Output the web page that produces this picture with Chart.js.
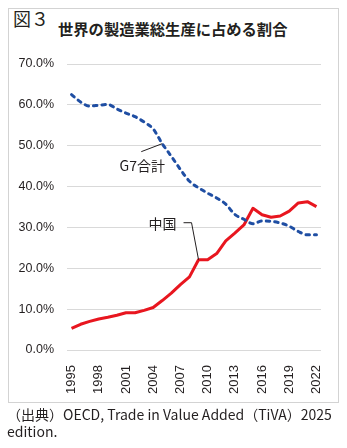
<!DOCTYPE html>
<html>
<head>
<meta charset="utf-8">
<script src="https://cdn.jsdelivr.net/npm/chart.js@4/dist/chart.umd.min.js"></script>
<style>
  html, body { margin: 0; padding: 0; background: #fff; }
  body { width: 347px; height: 448px; position: relative; overflow: hidden;
         font-family: "Noto Sans CJK JP", "Noto Sans", sans-serif; color: #231f20; }
  #frame { position: absolute; left: 8px; top: 8px; width: 331px; height: 395px;
           border: 1px solid #d3d3d3; box-sizing: border-box; }
  #fig { position: absolute; left: 13px; top: 9px; font-size: 18px; line-height: 18px; }
  #title { position: absolute; left: 58px; top: 21px; font-size: 15.3px; line-height: 15px; font-weight: bold; }
  #source { position: absolute; left: 7px; top: 406px; font-size: 14px; line-height: 17px; width: 345px; white-space: nowrap; }
  #chart { position: absolute; left: 0; top: 0; }
</style>
</head>
<body>
<div id="frame"></div>
<div id="fig">図３</div>
<div id="title">世界の製造業総生産に占める割合</div>
<canvas id="chart" width="347" height="448"></canvas>
<div id="source">（出典）OECD, Trade in Value Added（TiVA）2025<br>edition.</div>
<script>
// Share of world manufacturing output (%), 1995–2022
const years = ['1995','1996','1997','1998','1999','2000','2001','2002','2003','2004',
               '2005','2006','2007','2008','2009','2010','2011','2012','2013','2014',
               '2015','2016','2017','2018','2019','2020','2021','2022'];
const g7Share = [62.5, 60.7, 59.7, 59.9, 60.1, 59.0, 58.0, 57.1, 55.8, 54.1,
                 50.5, 47.4, 44.2, 41.3, 39.7, 38.4, 37.2, 35.7, 33.2, 32.0,
                 30.9, 31.6, 31.5, 31.1, 30.3, 29.0, 28.2, 28.2];
const chinaShare = [5.3, 6.3, 7.0, 7.6, 8.0, 8.5, 9.1, 9.1, 9.7, 10.4,
                    12.1, 13.9, 16.0, 17.9, 22.1, 22.1, 23.6, 26.7, 28.6, 30.6,
                    34.7, 33.1, 32.5, 32.8, 34.0, 36.0, 36.3, 35.1];
const tickYears = ['1995','1998','2001','2004','2007','2010','2013','2016','2019','2022'];

const BLUE = '#1f4ea3';
const RED = '#e8161f';

// Series call-outs: label text, the point the leader touches, and the leader path (pixel offsets)
const callouts = [
  { text: 'G7合計', data: g7Share, index: 10,
    path: [[0, 0], [-21, 8]], textAt: [-20, 22], align: 'center' },
  { text: '中国', data: chinaShare, index: 14,
    path: [[0, 0], [-7, -37], [-15, -37]], textAt: [-22, -36], align: 'right' }
];

const calloutPlugin = {
  id: 'callouts',
  afterDatasetsDraw(chart) {
    const { ctx, scales: { x, y } } = chart;
    ctx.save();
    callouts.forEach(c => {
      const px = x.getPixelForValue(c.index);
      const py = y.getPixelForValue(c.data[c.index]);
      ctx.strokeStyle = '#231f20';
      ctx.lineWidth = 1;
      ctx.beginPath();
      c.path.forEach(([dx, dy], i) => {
        if (i === 0) ctx.moveTo(px + dx, py + dy); else ctx.lineTo(px + dx, py + dy);
      });
      ctx.stroke();
      ctx.fillStyle = '#231f20';
      ctx.font = '14px "Noto Sans CJK JP", sans-serif';
      ctx.textAlign = c.align;
      ctx.textBaseline = 'middle';
      ctx.fillText(c.text, px + c.textAt[0], py + c.textAt[1]);
    });
    ctx.restore();
  }
};

new Chart(document.getElementById('chart'), {
  type: 'line',
  data: {
    labels: years,
    datasets: [
      { label: 'G7合計', data: g7Share, borderColor: BLUE, borderWidth: 3,
        borderDash: [3.5, 5], borderCapStyle: 'round', pointRadius: 0,
        cubicInterpolationMode: 'monotone', fill: false },
      { label: '中国', data: chinaShare, borderColor: RED, borderWidth: 3,
        pointRadius: 0, tension: 0, fill: false, borderJoinStyle: 'round' }
    ]
  },
  options: {
    responsive: false,
    animation: false,
    events: [],
    layout: { padding: { top: 64, right: 26, left: 0, bottom: 0 } },
    plugins: { legend: { display: false }, tooltip: { enabled: false }, title: { display: false } },
    scales: {
      x: {
        type: 'category',
        offset: true,
        grid: { display: false },
        border: { display: false },
        ticks: {
          autoSkip: false, minRotation: 90, maxRotation: 90, padding: 7,
          color: '#231f20', font: { family: '"Liberation Sans", Arial, sans-serif', size: 13 },
          callback: (v, i) => tickYears.includes(years[i]) ? years[i] : ''
        },
        afterFit: s => { s.height = 98; }
      },
      y: {
        min: 0, max: 70,
        grid: { color: '#d9d9d9', lineWidth: 1, drawTicks: false },
        border: { display: false },
        ticks: {
          stepSize: 10, padding: 13, color: '#231f20',
          font: { family: '"Liberation Sans", Arial, sans-serif', size: 12.5 },
          callback: v => v.toFixed(1) + '%'
        },
        afterFit: s => { s.width = 67; }
      }
    }
  },
  plugins: [calloutPlugin]
});
</script>
</body>
</html>
